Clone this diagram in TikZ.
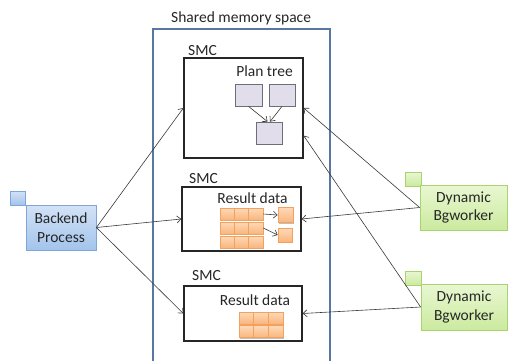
\documentclass[tikz,border=0pt]{standalone}
\usepackage{fontspec}
\setmainfont{Carlito}
\usetikzlibrary{arrows.meta,shadows,calc}
\definecolor{txt}{HTML}{262626}
\definecolor{frameblue}{HTML}{5878A3}
\definecolor{bluedraw}{HTML}{7FA6D9}
\definecolor{bluetop}{HTML}{D3E2F6}
\definecolor{bluebot}{HTML}{A3C4EC}
\definecolor{greendraw}{HTML}{A8D36E}
\definecolor{greentop}{HTML}{E9F7D2}
\definecolor{greenbot}{HTML}{CBEA9F}
\definecolor{orangedraw}{HTML}{F2A15E}
\definecolor{orangetop}{HTML}{FDD9B8}
\definecolor{orangebot}{HTML}{FAB57C}
\definecolor{purplefill}{HTML}{E2DDEB}
\definecolor{purpledraw}{HTML}{6E6E78}
\definecolor{arrowgray}{HTML}{3A3A3A}
\begin{document}
\begin{tikzpicture}[x=1pt,y=-1pt,
  every node/.style={font=\fontsize{15.5}{18.5}\selectfont, text=txt},
  smcbox/.style={draw=black!85, line width=1.3pt, fill=white, inner sep=0pt, rectangle},
  shadowed/.style={drop shadow={shadow xshift=1pt, shadow yshift=-1.2pt, opacity=0.25, fill=black}},
  bluebox/.style={draw=bluedraw, line width=0.8pt, top color=bluetop, bottom color=bluebot, inner sep=0pt, rectangle, shadowed},
  greenbox/.style={draw=greendraw, line width=0.8pt, top color=greentop, bottom color=greenbot, inner sep=0pt, rectangle, shadowed},
  cell/.style={draw=orangedraw, line width=0.6pt, top color=orangetop, bottom color=orangebot, inner sep=0pt, rectangle, shadowed},
  planbox/.style={draw=purpledraw, line width=0.7pt, fill=purplefill, inner sep=0pt, rectangle},
  arr/.style={draw=arrowgray, line width=0.6pt, -{Straight Barb[length=4pt,width=7pt]}},
  lbl/.style={inner sep=0pt, anchor=base west},
  clbl/.style={inner sep=0pt, anchor=base},
]
\useasboundingbox (0,0) rectangle (508,360);
\fill[white] (0,0) rectangle (508,360);

% shared memory space frame
\coordinate (fbl) at (153,361);
\coordinate (ftl) at (153,29);
\coordinate (ftr) at (330,29);
\coordinate (fbr) at (330,361);
\draw[frameblue, line width=1.4pt] (fbl) -- (ftl) -- (ftr) -- (fbr);
\node[lbl] (title) at (171,22) {Shared memory space};

% SMC boxes
\node[smcbox, minimum width=119pt, minimum height=100pt] (smc1) at (243.5,108) {};
\node[smcbox, minimum width=119pt, minimum height=64pt] (smc2) at (241.5,219) {};
\node[smcbox, minimum width=118pt, minimum height=55pt] (smc3) at (243,313.5) {};
\node[lbl] (smcl1) at (188,55) {SMC};
\node[lbl] (smcl2) at (189,183) {SMC};
\node[lbl] (smcl3) at (192,280) {SMC};

% plan tree
\node[clbl] (pt) at (264.5,76) {Plan tree};
\node[planbox, minimum width=27pt, minimum height=22pt] (pb1) at (248.5,95) {};
\node[planbox, minimum width=26pt, minimum height=22pt] (pb2) at (282,95) {};
\node[planbox, minimum width=26pt, minimum height=22pt] (pb3) at (269,133) {};
\draw[arr] (pb1.south) -- ([xshift=-1.5pt]pb3.north);
\draw[arr] (pb2.south) -- ([xshift=1pt]pb3.north);

% result data 1
\node[clbl] (rd1) at (252.5,203) {Result data};
\foreach \r/\yy in {1/214,2/228,3/242}
  \foreach \c in {1,2,3}
    \node[cell, minimum width=14.33pt, minimum height=12pt] (a\r\c) at ({220+14.33*(\c-0.5)},\yy) {};
\node[cell, minimum width=15pt, minimum height=15pt] (ca) at (285.5,215) {};
\node[cell, minimum width=14pt, minimum height=14pt] (cb) at (285,235) {};
\draw[arr] (a13.east) -- (ca.west);
\draw[arr] (a23.east) -- (cb.west);

% result data 2
\node[clbl] (rd2) at (255,305) {Result data};
\foreach \r/\yy in {1/318,2/331.5}
  \foreach \c in {1,2,3}
    \node[cell, minimum width=14.67pt, minimum height=12pt] (b\r\c) at ({239+14.67*(\c-0.5)},\yy) {};

% backend process
\node[bluebox, minimum width=15pt, minimum height=14pt] (bsq) at (17.5,198) {};
\node[bluebox, minimum width=70pt, minimum height=45pt, align=center] (backend) at (61,227.5) {Backend\\Process};

% dynamic bgworkers
\node[greenbox, minimum width=16pt, minimum height=14pt] (gsq1) at (413,179) {};
\node[greenbox, minimum width=87pt, minimum height=45pt, align=center] (db1) at (463.5,207.5) {Dynamic\\Bgworker};
\node[greenbox, minimum width=16pt, minimum height=14pt] (gsq2) at (413,278) {};
\node[greenbox, minimum width=86pt, minimum height=46pt, align=center] (db2) at (464,307) {Dynamic\\Bgworker};

% connectors
\coordinate (s1r2) at ($(smc1.south east)+(0,-23)$);
\draw[arr] (backend.east) -- (smc1.west);
\draw[arr] (backend.east) -- (smc2.west);
\draw[arr] (backend.east) -- (smc3.west);
\draw[arr] (db1.west) -- (smc1.east);
\draw[arr] (db1.west) -- (smc2.east);
\draw[arr] (db2.west) -- (s1r2);
\draw[arr] (db2.west) -- (smc3.east);
\end{tikzpicture}
\end{document}
